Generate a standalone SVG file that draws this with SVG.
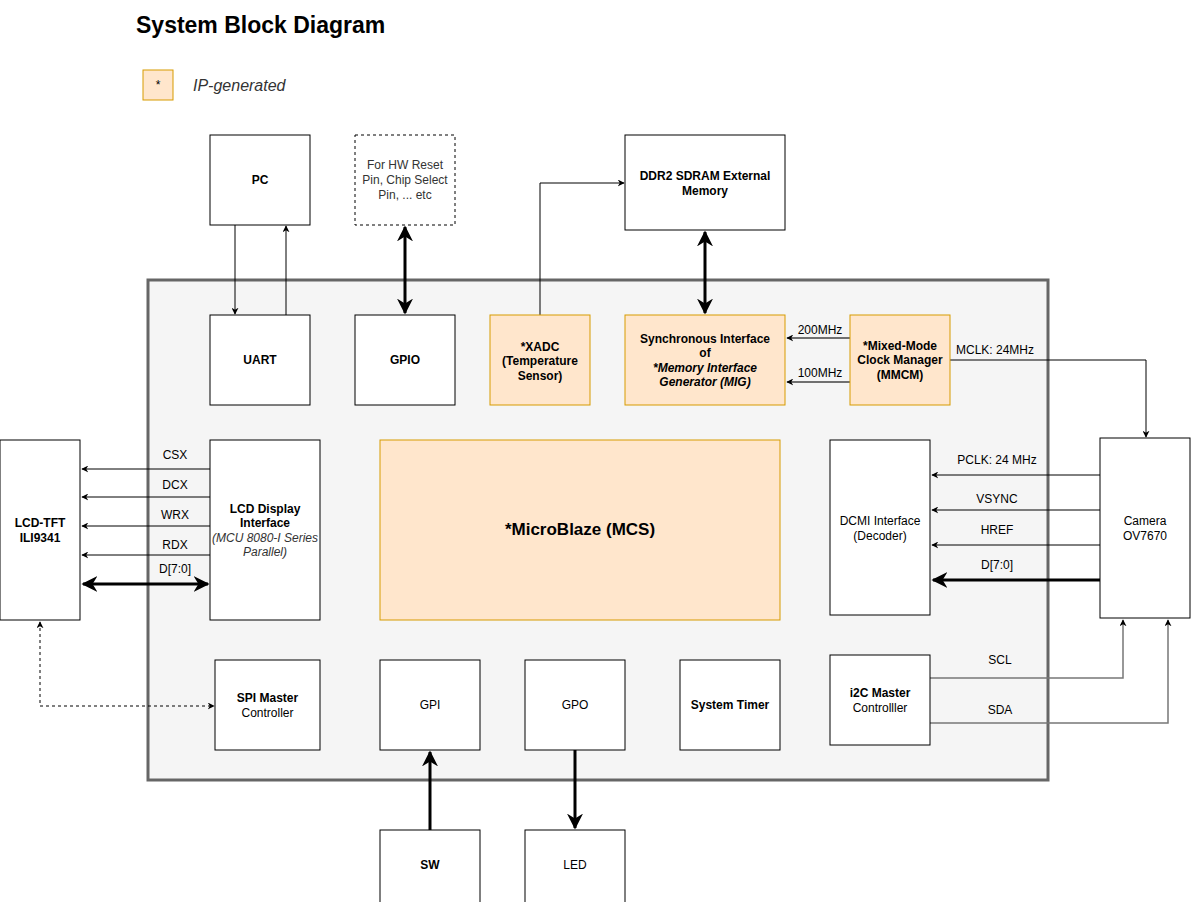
<svg xmlns="http://www.w3.org/2000/svg" width="1191" height="902" viewBox="0 0 1191 902">
<defs>
<style>
text{font-family:"Liberation Sans",Arial,Helvetica,sans-serif;font-size:12px;fill:#000}
.c{text-anchor:middle}
.b{font-weight:bold}
.i{font-style:italic}
.lbl{fill:#333}
.box{fill:#fff;stroke:#000;stroke-width:1}
.ip{fill:#ffe6cc;stroke:#d79b00;stroke-width:1}
.th{stroke:#000;stroke-width:1;fill:none}
.tk{stroke:#000;stroke-width:3;fill:none}
.gr{stroke:#707070;stroke-width:2;fill:none}
.gt{stroke:#777;stroke-width:1.5;fill:none}
</style>
<marker id="a" viewBox="0 0 10 10" refX="9" refY="5" markerWidth="7" markerHeight="7" orient="auto-start-reverse" markerUnits="userSpaceOnUse"><path d="M0,0 L10,5 L0,10 L3,5 z" fill="#000"/></marker>
<marker id="ak" viewBox="0 0 10 10" refX="9" refY="5" markerWidth="16" markerHeight="16" orient="auto-start-reverse" markerUnits="userSpaceOnUse"><path d="M0,0 L10,5 L0,10 L3,5 z" fill="#000"/></marker>
</defs>
<rect width="1191" height="902" fill="#fff"/>
<text x="136" y="33" class="b" style="font-size:23px">System Block Diagram</text>
<g id="legend">
<rect x="143" y="70" width="30" height="30" class="ip"/>
<text x="158" y="89" class="c">*</text>
<text x="193" y="91" class="i lbl" style="font-size:16px">IP-generated</text>
</g>
<g id="fpga"><rect x="148" y="280" width="900" height="500" fill="#f5f5f5" stroke="#666" stroke-width="3"/></g>

<g id="connectors">
<line x1="235" y1="225" x2="235" y2="314" class="th" marker-end="url(#a)"/>
<line x1="286" y1="315" x2="286" y2="226" class="th" marker-end="url(#a)"/>
<line x1="405" y1="227" x2="405" y2="313" class="tk" marker-start="url(#ak)" marker-end="url(#ak)"/>
<polyline points="540,315 540,183 624,183" class="th" marker-end="url(#a)"/>
<line x1="705" y1="232" x2="705" y2="313" class="tk" marker-start="url(#ak)" marker-end="url(#ak)"/>
<line x1="850" y1="338" x2="787" y2="338" class="gr" marker-end="url(#a)"/>
<line x1="850" y1="382" x2="787" y2="382" class="gr" marker-end="url(#a)"/>
<polyline points="950,360 1146,360 1146,437" class="th" marker-end="url(#a)"/>
<line x1="210" y1="469" x2="82" y2="469" class="th" marker-end="url(#a)"/>
<line x1="210" y1="497" x2="82" y2="497" class="th" marker-end="url(#a)"/>
<line x1="210" y1="526" x2="82" y2="526" class="th" marker-end="url(#a)"/>
<line x1="210" y1="555" x2="82" y2="555" class="th" marker-end="url(#a)"/>
<line x1="83" y1="584" x2="208" y2="584" class="tk" marker-start="url(#ak)" marker-end="url(#ak)"/>
<line x1="1100" y1="475" x2="932" y2="475" class="th" marker-end="url(#a)"/>
<line x1="1100" y1="510" x2="932" y2="510" class="th" marker-end="url(#a)"/>
<line x1="1100" y1="545" x2="932" y2="545" class="th" marker-end="url(#a)"/>
<line x1="1100" y1="580" x2="933" y2="580" class="tk" marker-end="url(#ak)"/>
<polyline points="40,622 40,706 214,706" class="th" stroke-dasharray="3,3" marker-start="url(#a)" marker-end="url(#a)"/>
<polyline points="930,678 1123,678 1123,620" class="gt" marker-end="url(#a)"/>
<polyline points="930,723 1168,723 1168,620" class="gt" marker-end="url(#a)"/>
<line x1="430" y1="830" x2="430" y2="752" class="tk" marker-end="url(#ak)"/>
<line x1="575" y1="750" x2="575" y2="828" class="tk" marker-end="url(#ak)"/>
<g class="lbl">
<text x="240" y="214" class="c">RxD</text>
<text x="286" y="214" class="c">TxD</text>
<text x="820" y="334" class="c">200MHz</text>
<text x="820" y="377" class="c">100MHz</text>
<text x="995" y="354" class="c">MCLK: 24MHz</text>
<text x="175" y="459" class="c">CSX</text>
<text x="175" y="489" class="c">DCX</text>
<text x="175" y="519" class="c">WRX</text>
<text x="175" y="549" class="c">RDX</text>
<text x="175" y="573" class="c">D[7:0]</text>
<text x="997" y="464" class="c">PCLK: 24 MHz</text>
<text x="997" y="503" class="c">VSYNC</text>
<text x="997" y="534" class="c">HREF</text>
<text x="997" y="569" class="c">D[7:0]</text>
<text x="1000" y="664" class="c">SCL</text>
<text x="1000" y="714" class="c">SDA</text>
</g>
</g>

<g id="pc"><rect x="210" y="135" width="100" height="90" class="box"/><text x="260" y="184" class="c b">PC</text></g>
<g id="hwpins"><rect x="355" y="135" width="100" height="90" fill="#fff" stroke="#000" stroke-dasharray="3,3"/>
<text x="405" y="169" class="c lbl">For HW Reset</text><text x="405" y="184" class="c lbl">Pin, Chip Select</text><text x="405" y="199" class="c lbl">Pin, ... etc</text></g>
<g id="ddr2"><rect x="625" y="135" width="160" height="95" class="box"/>
<text x="705" y="180" class="c b">DDR2 SDRAM External</text><text x="705" y="195" class="c b">Memory</text></g>
<g id="uart"><rect x="210" y="315" width="100" height="90" class="box"/><text x="260" y="364" class="c b">UART</text></g>
<g id="gpio"><rect x="355" y="315" width="100" height="90" class="box"/><text x="405" y="364" class="c b">GPIO</text></g>
<g id="xadc"><rect x="490" y="315" width="100" height="90" class="ip"/>
<text x="540" y="351" class="c b">*XADC</text><text x="540" y="365" class="c b">(Temperature</text><text x="540" y="380" class="c b">Sensor)</text></g>
<g id="mig"><rect x="625" y="315" width="160" height="90" class="ip"/>
<text x="705" y="343" class="c b">Synchronous Interface</text><text x="705" y="357" class="c b">of</text>
<text x="705" y="372" class="c b i">*Memory Interface</text><text x="705" y="386" class="c b i">Generator (MIG)</text></g>
<g id="mmcm"><rect x="850" y="315" width="100" height="90" class="ip"/>
<text x="900" y="350" class="c b">*Mixed-Mode</text><text x="900" y="364" class="c b">Clock Manager</text><text x="900" y="379" class="c b">(MMCM)</text></g>
<g id="lcdtft"><rect x="0" y="440" width="80" height="180" class="box"/>
<text x="40" y="527" class="c b">LCD-TFT</text><text x="40" y="542" class="c b">ILI9341</text></g>
<g id="lcdif"><rect x="210" y="440" width="110" height="180" class="box"/>
<text x="265" y="513" class="c b">LCD Display</text><text x="265" y="527" class="c b">Interface</text>
<text x="265" y="542" class="c i lbl">(MCU 8080-I Series</text><text x="265" y="556" class="c i lbl">Parallel)</text></g>
<g id="microblaze"><rect x="380" y="440" width="400" height="180" class="ip"/>
<text x="580" y="535" class="c b" style="font-size:17px">*MicroBlaze (MCS)</text></g>
<g id="dcmi"><rect x="830" y="440" width="100" height="175" class="box"/>
<text x="880" y="525" class="c">DCMI Interface</text><text x="880" y="540" class="c">(Decoder)</text></g>
<g id="camera"><rect x="1100" y="438" width="90" height="180" class="box"/>
<text x="1145" y="525" class="c">Camera</text><text x="1145" y="540" class="c">OV7670</text></g>
<g id="spi"><rect x="215" y="660" width="105" height="90" class="box"/>
<text x="267.5" y="702" class="c b">SPI Master</text><text x="267.5" y="717" class="c">Controller</text></g>
<g id="gpi"><rect x="380" y="660" width="100" height="90" class="box"/><text x="430" y="709" class="c">GPI</text></g>
<g id="gpo"><rect x="525" y="660" width="100" height="90" class="box"/><text x="575" y="709" class="c">GPO</text></g>
<g id="timer"><rect x="680" y="660" width="100" height="90" class="box"/><text x="730" y="709" class="c b">System Timer</text></g>
<g id="i2c"><rect x="830" y="655" width="100" height="90" class="box"/>
<text x="880" y="697" class="c b">i2C Master</text><text x="880" y="712" class="c">Controlller</text></g>
<g id="sw"><rect x="380" y="830" width="100" height="90" class="box"/><text x="430" y="869" class="c b">SW</text></g>
<g id="led"><rect x="525" y="830" width="100" height="90" class="box"/><text x="575" y="869" class="c">LED</text></g>
</svg>
